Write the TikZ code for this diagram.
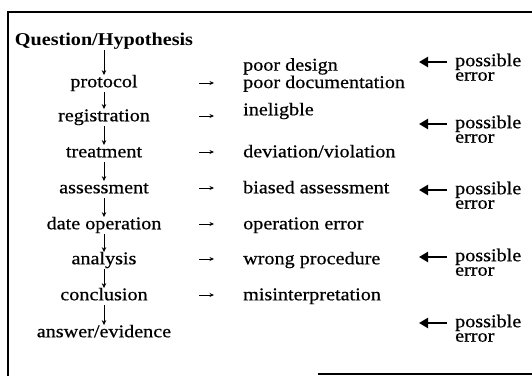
\documentclass[tikz,border=0pt]{standalone}
\usepackage{fontspec}
\setmainfont{Liberation Serif}[FakeStretch=1.12, UprightFeatures={FakeBold=0.6}]
\usetikzlibrary{arrows.meta}
\begin{document}
\begin{tikzpicture}[x=1pt,y=-1pt,
  txt/.style={font=\fontsize{18pt}{14.5pt}\selectfont, inner sep=0pt},
  stepnode/.style={txt, text height=12pt, text depth=3pt, anchor=mid},
  errnode/.style={txt, anchor=mid west},
  twoline/.style={txt, align=left, anchor=north west},
  flow/.style={line width=1pt, -{Stealth[length=5pt,width=4.5pt]}, shorten <=1.5pt},
  midarrow/.style={line width=0.9pt, -{Stealth[length=4.5pt,width=4pt]}},
  errarrow/.style={line width=2.6pt, -{Triangle[length=9pt,width=10pt]}},
  frame/.style={line width=1.6pt}]
\useasboundingbox (0,0) rectangle (532,376);
% frame
\draw[frame] (532,12) -- (8,12) -- (8,376);
\draw[frame] (318,374) -- (532,374);
% left column
\node[stepnode, font=\fontsize{18pt}{14.5pt}\selectfont\bfseries] (q) at (104,43) {Question/Hypothesis};
\node[stepnode] (p1) at (104,85) {protocol};
\node[stepnode] (p2) at (104,119) {registration};
\node[stepnode] (p3) at (104,155) {treatment};
\node[stepnode] (p4) at (104,191) {assessment};
\node[stepnode] (p5) at (104,227) {date operation};
\node[stepnode] (p6) at (104,262) {analysis};
\node[stepnode] (p7) at (104,298) {conclusion};
\node[stepnode] (p8) at (104,335) {answer/evidence};
\draw[flow, line width=0.7pt] (q.south) -- (p1.north);
\foreach \a/\b in {p1/p2,p2/p3,p3/p4,p4/p5,p5/p6,p6/p7,p7/p8}
  \draw[flow] (\a.south) -- (\b.north);
% middle column
\node[twoline] (m1) at (243,58) {poor design\\poor documentation};
\node[errnode] (m2) at (243,113) {ineligble};
\node[errnode] (m3) at (243,155) {deviation/violation};
\node[errnode] (m4) at (243,191) {biased assessment};
\node[errnode] (m5) at (243,227) {operation error};
\node[errnode] (m6) at (243,262) {wrong procedure};
\node[errnode] (m7) at (243,298) {misinterpretation};
\foreach \i/\y in {1/83,2/116,3/152,4/188,5/224,6/259,7/295}{
  \coordinate (ms\i) at (199,\y);
  \coordinate (me\i) at (214,\y);
  \draw[midarrow] (ms\i) -- (me\i);
}
% right column
\foreach \i/\y in {1/62,2/124,3/190,4/257,5/323}{
  \node[twoline] (e\i) at (455,\y-8.5) {possible\\error};
  \coordinate (es\i) at (447,\y);
  \coordinate (ee\i) at (419,\y);
  \draw[errarrow] (es\i) -- (ee\i);
}
\end{tikzpicture}
\end{document}
